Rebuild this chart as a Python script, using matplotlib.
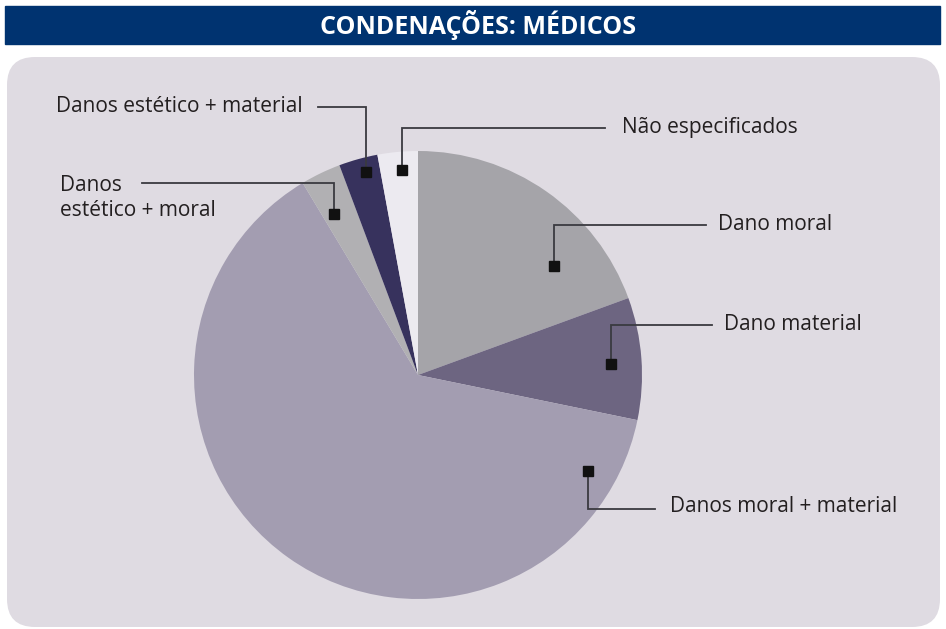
import numpy as np
import matplotlib
matplotlib.use("Agg")
import matplotlib.pyplot as plt
from matplotlib.patches import FancyBboxPatch, Rectangle

W, H = 946, 629

# data (share of convictions, %)
labels = ["Dano moral", "Dano material", "Danos moral + material",
          "Danos\nestético + moral", "Danos estético + material",
          "Não especificados"]
values = [19.4, 8.8, 63.1, 2.9, 2.8, 2.9]
colors = ["#a5a4a9", "#6d6581", "#a39db1", "#b1b0b3", "#37325d", "#eceaf0"]
title = "CONDENAÇÕES: MÉDICOS"

# layout (pixel coords, y from top): marker, elbow, line end, text anchor
CENTER = (418, 375)
RADIUS = 224
leaders = [
    ((554, 266), (554, 225), (706, 225), (718, 225), "left"),
    ((611, 364), (611, 325), (712, 325), (724, 325), "left"),
    ((588, 471), (588, 509), (655, 509), (670, 507), "left"),
    ((334, 214), (334, 183), (142, 183), (60, 198), "left"),
    ((366, 172), (366, 107), (318, 107), (303, 107), "right"),
    ((402, 170), (402, 128), (605, 128), (622, 128), "left"),
]

plt.rcParams["font.family"] = ["Open Sans", "DejaVu Sans"]

fig = plt.figure(figsize=(W / 100, H / 100), dpi=100)
ax = fig.add_axes([0, 0, 1, 1])


def fy(y):
    return H - y


# title bar
ax.add_patch(Rectangle((5, fy(44)), 935, 38, color="#003370", zorder=1))
ax.text(478, fy(25), title, color="white", fontsize=18, fontweight="bold",
        ha="center", va="center", zorder=2)

# panel
ax.add_patch(FancyBboxPatch((7, fy(627)), 933, 570,
                            boxstyle="round,pad=0,rounding_size=28",
                            facecolor="#dfdbe2", edgecolor="none", zorder=1))

wedges, _ = ax.pie(values, colors=colors, startangle=90, counterclock=False,
                   center=(CENTER[0], fy(CENTER[1])), radius=RADIUS,
                   wedgeprops=dict(linewidth=0), frame=True)
for w in wedges:
    w.set_zorder(3)
ax.set_xlim(0, W)
ax.set_ylim(0, H)
ax.set_aspect("equal")
ax.axis("off")

for lab, (m, e, end, t, ha) in zip(labels, leaders):
    ax.plot([m[0], e[0], end[0]], [fy(m[1]), fy(e[1]), fy(end[1])],
            color="#3a3a40", linewidth=1.3, zorder=4, solid_joinstyle="miter")
    ax.plot(m[0], fy(m[1]), marker="s", markersize=6.5, color="#111111",
            zorder=5, linestyle="none")
    ax.text(t[0], fy(t[1]), lab, fontsize=15, color="#231f20",
            ha=ha, va="center", zorder=5, linespacing=1.3)

fig.savefig("out.png", dpi=100)
